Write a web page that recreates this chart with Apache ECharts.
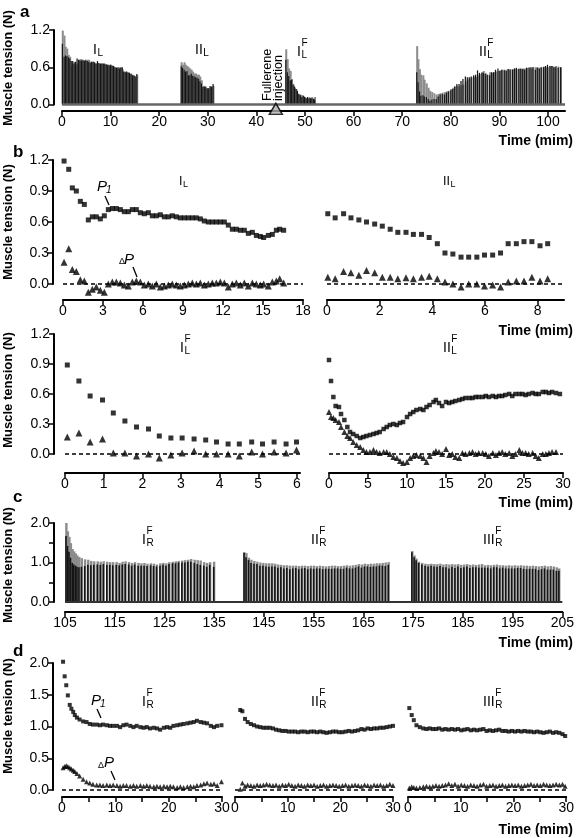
<!DOCTYPE html>
<html><head><meta charset="utf-8">
<script src="https://cdn.jsdelivr.net/npm/echarts@6/dist/echarts.min.js"></script>
<style>html,body{margin:0;padding:0;background:#fff}#c{width:577px;height:838px}</style>
</head><body><div id="c"></div>
<script>
// ---------- DATA: [time (min), P1 (N), deltaP (N)] ----------
const segIL = [[0.08,1.19,0.21],[0.43,1.11,0.34],[0.7,0.93,0.14],[1.0,0.90,0.12],[1.3,0.80,0.04],[1.6,0.77,0.03],[1.9,0.62,-0.08],[2.2,0.65,-0.05],[2.5,0.65,-0.03],[2.8,0.63,-0.06],[3.1,0.66,-0.08],[3.4,0.72,0.0],[3.7,0.73,0.02],[4.0,0.73,0.02],[4.3,0.72,0.01],[4.6,0.70,-0.01],[4.9,0.70,-0.02],[5.2,0.72,0.02],[5.5,0.72,0.03],[5.8,0.69,0.02],[6.1,0.68,-0.01],[6.4,0.69,0.0],[6.7,0.66,-0.02],[7.0,0.66,0.0],[7.3,0.67,-0.03],[7.6,0.65,-0.02],[7.9,0.65,-0.01],[8.2,0.66,0.0],[8.5,0.65,-0.01],[8.8,0.64,-0.02],[9.1,0.64,-0.01],[9.4,0.64,0.0],[9.7,0.64,0.01],[10.0,0.64,0.0],[10.3,0.63,0.01],[10.6,0.61,-0.01],[10.9,0.60,0.0],[11.2,0.60,0.01],[11.5,0.60,0.01],[11.8,0.60,0.02],[12.1,0.60,0.01],[12.4,0.57,-0.03],[12.7,0.53,0.0],[13.0,0.53,0.01],[13.3,0.52,-0.01],[13.6,0.52,0.01],[13.9,0.49,-0.02],[14.2,0.50,0.01],[14.5,0.47,0.0],[14.8,0.46,-0.01],[15.05,0.45,0.0],[15.4,0.47,-0.02],[15.7,0.48,0.02],[16.0,0.52,0.03],[16.25,0.53,0.05],[16.55,0.52,0.01]];
const segIIL = [[0.03,0.68,0.065],[0.31,0.64,0.05],[0.63,0.68,0.12],[0.91,0.64,0.11],[1.21,0.62,0.085],[1.5,0.60,0.13],[1.81,0.58,0.11],[2.1,0.56,0.065],[2.4,0.53,0.065],[2.69,0.50,0.05],[3.0,0.50,0.06],[3.28,0.48,0.05],[3.59,0.48,0.065],[3.88,0.45,0.075],[4.19,0.39,0.05],[4.48,0.30,0.02],[4.78,0.29,0.0],[5.09,0.26,-0.03],[5.38,0.26,0.0],[5.69,0.26,0.0],[5.98,0.28,-0.02],[6.29,0.28,-0.01],[6.59,0.30,-0.03],[6.88,0.39,0.02],[7.19,0.39,0.03],[7.48,0.41,0.03],[7.78,0.41,0.065],[8.09,0.37,0.03],[8.38,0.39,0.05]];
const segILF = [[0.06,0.89,0.17],[0.36,0.73,0.21],[0.65,0.58,0.12],[0.97,0.54,0.15],[1.25,0.41,0.01],[1.55,0.33,0.01],[1.85,0.27,-0.02],[2.16,0.25,0.0],[2.44,0.18,-0.04],[2.74,0.16,-0.01],[3.03,0.16,0.01],[3.34,0.15,0.03],[3.64,0.14,0.0],[3.92,0.12,0.0],[4.22,0.10,0.0],[4.51,0.10,-0.02],[4.83,0.12,0.02],[5.11,0.10,0.0],[5.41,0.12,0.02],[5.72,0.10,0.01],[5.99,0.12,0.04]];
const segIILF = [[0,0.94,0.42],[0.26,0.73,0.37],[0.56,0.57,0.36],[0.85,0.48,0.34],[1.28,0.47,0.32],[1.54,0.40,0.27],[1.97,0.34,0.22],[2.35,0.27,0.18],[2.7,0.22,0.16],[3.1,0.20,0.12],[3.55,0.18,0.09],[4.0,0.16,0.07],[4.4,0.17,0.04],[4.8,0.18,0.02],[5.25,0.19,0.02],[5.7,0.20,0.04],[6.1,0.21,0.02],[6.5,0.22,0.01],[7.0,0.25,0.02],[7.4,0.27,0.02],[7.8,0.29,0.0],[8.25,0.30,-0.03],[8.7,0.29,-0.04],[9.1,0.31,-0.07],[9.5,0.32,-0.09],[10.0,0.37,-0.08],[10.4,0.40,-0.04],[10.8,0.42,-0.02],[11.2,0.44,-0.01],[11.7,0.45,-0.02],[12.1,0.44,-0.04],[12.5,0.47,-0.08],[12.9,0.49,-0.02],[13.4,0.52,0.01],[13.7,0.54,0.03],[14.1,0.51,0.02],[14.5,0.48,0.0],[15.0,0.52,0.05],[15.4,0.51,-0.01],[15.8,0.52,0.0],[16.2,0.53,-0.03],[16.7,0.54,-0.04],[17.1,0.55,0.01],[17.5,0.56,0.0],[18.0,0.56,0.01],[18.4,0.56,0.02],[18.8,0.57,0.0],[19.2,0.57,0.01],[19.7,0.57,0.01],[20.1,0.58,0.0],[20.5,0.57,-0.02],[21.0,0.58,0.01],[21.4,0.57,-0.01],[21.8,0.58,0.01],[22.2,0.58,0.02],[22.6,0.59,0.0],[23.1,0.60,0.01],[23.5,0.58,-0.02],[23.9,0.60,0.0],[24.4,0.60,0.04],[24.8,0.60,0.01],[25.2,0.59,0.01],[25.6,0.60,0.0],[26.1,0.61,0.01],[26.5,0.60,-0.02],[26.9,0.60,-0.04],[27.4,0.62,0.0],[27.8,0.62,0.0],[28.2,0.61,0.01],[28.6,0.62,0.02],[29.1,0.61,0.02],[29.6,0.60,null]];
const segIRF = [[0.2,2.02,0.35],[0.5,1.79,0.37],[0.8,1.65,0.38],[1.1,1.49,0.37],[1.45,1.34,0.35],[1.76,1.28,0.33],[2.1,1.23,0.31],[2.4,1.18,0.29],[2.8,1.14,0.26],[3.3,1.11,0.22],[3.96,1.08,0.17],[4.6,1.07,0.13],[5.2,1.04,0.11],[5.8,1.03,0.09],[6.5,1.03,0.08],[7.1,1.02,0.08],[7.7,1.03,0.07],[8.4,1.02,0.08],[9.0,1.01,0.07],[9.6,1.01,0.08],[10.3,1.01,0.07],[10.9,0.99,0.06],[11.5,1.02,0.07],[12.1,1.03,0.07],[12.8,1.01,0.06],[13.4,0.99,0.07],[14.0,1.01,0.06],[14.7,0.99,0.07],[15.3,0.98,0.06],[15.9,0.99,0.07],[16.5,0.97,0.06],[17.2,0.98,0.05],[17.8,0.97,0.06],[18.4,0.95,0.05],[19.1,0.98,0.06],[19.7,0.99,0.05],[20.3,0.98,0.06],[20.9,1.01,0.05],[21.6,1.02,0.04],[22.2,1.03,0.05],[22.8,1.04,0.04],[23.5,1.05,0.05],[24.1,1.06,0.06],[24.7,1.07,0.05],[25.3,1.09,0.07],[26.0,1.07,0.08],[26.6,1.06,0.10],[27.2,1.05,0.11],[27.9,1.01,0.09],[28.5,0.99,0.10],[29.1,1.01,0.07],[29.9,1.02,0.13]];
const segIIRF = [[1.0,1.26,0.01],[1.4,1.24,0.11],[1.9,1.12,0.06],[2.4,1.07,0.08],[3.0,1.04,0.07],[3.6,1.02,0.06],[4.2,1.00,0.08],[4.8,0.99,0.07],[5.4,0.98,0.08],[6.0,0.98,0.09],[6.6,0.98,0.08],[7.2,0.97,0.07],[7.8,0.95,0.08],[8.4,0.94,0.06],[9.0,0.93,0.08],[9.6,0.93,0.07],[10.2,0.92,0.09],[10.8,0.92,0.07],[11.4,0.92,0.06],[12.0,0.91,0.08],[12.6,0.92,0.07],[13.2,0.92,0.06],[13.8,0.91,0.08],[14.4,0.92,0.07],[15.0,0.92,0.08],[15.6,0.91,0.06],[16.2,0.92,0.07],[16.8,0.91,0.08],[17.4,0.90,0.06],[18.0,0.91,0.07],[18.6,0.92,0.08],[19.2,0.92,0.07],[19.8,0.91,0.06],[20.4,0.91,0.07],[21.0,0.92,0.08],[21.6,0.93,0.06],[22.2,0.92,0.07],[22.8,0.93,0.08],[23.4,0.94,0.07],[24.0,0.96,0.06],[24.6,0.95,0.08],[25.2,0.97,0.07],[25.8,0.96,0.06],[26.4,0.97,0.08],[27.0,0.97,0.07],[27.6,0.98,0.08],[28.2,0.98,0.06],[28.8,0.99,0.07],[29.4,1.00,0.09],[30.0,1.01,0.07]];
const segIIIRF = [[0.25,1.29,0.03],[0.7,1.18,0.05],[1.1,1.10,0.04],[1.6,1.02,0.03],[2.25,0.99,0.04],[2.9,0.97,0.05],[3.5,0.96,0.06],[4.1,0.97,0.05],[4.7,0.96,0.06],[5.3,0.96,0.07],[5.9,0.97,0.06],[6.5,0.95,0.07],[7.1,0.96,0.08],[7.7,0.95,0.10],[8.3,0.96,0.07],[8.9,0.95,0.09],[9.5,0.96,0.06],[10.1,0.94,0.08],[10.7,0.95,0.07],[11.3,0.96,0.06],[11.9,0.94,0.08],[12.5,0.95,0.07],[13.1,0.94,0.06],[13.7,0.95,0.08],[14.3,0.96,0.09],[14.9,0.93,0.06],[15.5,0.94,0.07],[16.1,0.93,0.08],[16.7,0.94,0.06],[17.3,0.95,0.07],[17.9,0.93,0.08],[18.5,0.93,0.06],[19.1,0.92,0.07],[19.7,0.93,0.08],[20.3,0.92,0.07],[20.9,0.93,0.08],[21.5,0.92,0.06],[22.1,0.93,0.07],[22.7,0.92,0.08],[23.3,0.92,0.09],[23.9,0.91,0.07],[24.5,0.92,0.08],[25.1,0.91,0.07],[25.7,0.90,0.09],[26.3,0.91,0.08],[26.9,0.92,0.07],[27.5,0.90,0.08],[28.1,0.91,0.09],[28.7,0.90,0.08],[29.3,0.88,0.09],[29.8,0.85,0.06]];
// start times of each recording block on the continuous time axes (panels a and c)
const startsA = [0, 24.5, 46, 73];
const cutA = [15.5, 6.6, 99, 99];      // part of each block shown as a trace in panel a
const startsC = [105, 140, 174.5];
const injectionTime = 44;
// tick labels
const ticksA = [0,10,20,30,40,50,60,70,80,90,100];
const ticksIL = [0,3,6,9,12,15,18];
const ticksIIL = [0,2,4,6,8];
const ticksILF = [0,1,2,3,4,5,6];
const ticksIILF = [0,5,10,15,20,25,30];
const ticksC = [105,115,125,135,145,155,165,175,185,195,205];
const ticksD = [0,10,20,30];
const minorD = [0,5,10,15,20,25,30];
const yTicksA = [0,0.6,1.2];
const yTicksB = [0,0.3,0.6,0.9,1.2];
const yLabelsC = [0,1,2];
const yTicksC = [0,0.5,1,1.5,2];
const yTicksD = [0,0.5,1,1.5,2];

// ---------- BUILD ----------
const FONT = '"Liberation Sans", Arial, Helvetica, sans-serif';
const grids = [], xAxis = [], yAxis = [], series = [], graphic = [];
const fmt1 = v => Number(v).toFixed(1);

function panel(o) {
  const i = grids.length;
  grids.push({left: o.left, top: o.top, width: o.width, height: o.height});
  xAxis.push({type: 'value', gridIndex: i, min: o.xmin, max: o.xmax, offset: o.xoff,
    axisLine: {show: true, onZero: false, lineStyle: {color: '#000', width: 2}},
    axisTick: {show: true, inside: false, length: 5, lineStyle: {color: '#000', width: 1.5}, customValues: o.xticks},
    axisLabel: {show: true, customValues: o.xlabels, color: '#000', fontSize: 14, fontFamily: FONT, margin: 4},
    splitLine: {show: false}});
  yAxis.push({type: 'value', gridIndex: i, min: o.ymin, max: o.ymax, offset: o.yoff || 0, show: !!o.ylabels,
    axisLine: {show: true, onZero: false, lineStyle: {color: '#000', width: 2}},
    axisTick: {show: true, length: 5, lineStyle: {color: '#000', width: 1.5}, customValues: o.yticks},
    axisLabel: {show: true, customValues: o.ylabels, color: '#000', fontSize: 14, fontFamily: FONT, margin: 4, formatter: fmt1},
    splitLine: {show: false}});
  return i;
}
function scatter(gi, data, sym, size, extra) {
  series.push(Object.assign({type: 'scatter', xAxisIndex: gi, yAxisIndex: gi, data: data, symbol: sym, symbolSize: size,
    itemStyle: {color: '#000'}, clip: false, silent: true, animation: false}, extra || {}));
}
function dashZero() {
  return {silent: true, symbol: 'none', animation: false, label: {show: false},
    lineStyle: {color: '#000', type: [4, 3], width: 1.5}, data: [{yAxis: 0}]};
}
function bars(gi, data, color, w, extra) {
  series.push(Object.assign({type: 'bar', xAxisIndex: gi, yAxisIndex: gi, data: data, barWidth: w, barGap: '-100%',
    itemStyle: {color: color}, silent: true, animation: false}, extra || {}));
}
function p1Of(seg) { return seg.map(d => [d[0], d[1]]); }
function dpOf(seg) { return seg.filter(d => d[2] !== null).map(d => [d[0], d[2]]); }
function scatterPanel(gi, seg, sq, tri) {
  scatter(gi, p1Of(seg), 'rect', sq);
  scatter(gi, dpOf(seg), 'triangle', tri, {markLine: dashZero()});
}

// panel a
const gA = panel({left: 62, top: 30, width: 503, height: 74.5, xmin: 0, xmax: 103.5, xoff: 6.5,
  xticks: ticksA, xlabels: ticksA, ymin: 0, ymax: 1.2, yoff: 8, yticks: yTicksA, ylabels: yTicksA});
const segsA = [segIL, segIIL, segILF, segIILF];
const aGray = [], aBlack = [];
segsA.forEach((s, k) => s.forEach(d => {
  if (d[0] <= cutA[k]) {
    aGray.push([startsA[k] + d[0], d[1]]);
    aBlack.push([startsA[k] + d[0], d[1] - (d[2] || 0)]);
  }
}));
bars(gA, aGray, '#8c8c8c', 2, {markLine: {silent: true, symbol: 'none', animation: false, label: {show: false},
  lineStyle: {color: '#666', type: 'solid', width: 2.5}, data: [{yAxis: 0}]}});
bars(gA, aBlack, '#151515', 1.2);
scatter(gA, [[injectionTime, -0.07]], 'triangle', [13, 11], {itemStyle: {color: '#b0b0b0', borderColor: '#000', borderWidth: 1.5}, z: 10});

// panel b (top)
const gIL = panel({left: 63, top: 160, width: 240, height: 124, xmin: 0, xmax: 18, xoff: 16,
  xticks: ticksIL, xlabels: ticksIL, ymin: 0, ymax: 1.2, yoff: 10, yticks: yTicksB, ylabels: yTicksB});
scatterPanel(gIL, segIL, 5, 7);
const gIIL = panel({left: 327, top: 160, width: 237, height: 124, xmin: 0, xmax: 9, xoff: 16,
  xticks: ticksIIL, xlabels: ticksIIL, ymin: 0, ymax: 1.2});
scatterPanel(gIIL, segIIL, 5, 7);
// panel b (bottom)
const gILF = panel({left: 65, top: 334, width: 235, height: 120, xmin: 0, xmax: 6.08, xoff: 19,
  xticks: ticksILF, xlabels: ticksILF, ymin: 0, ymax: 1.2, yoff: 11, yticks: yTicksB, ylabels: yTicksB});
scatterPanel(gILF, segILF, 5, 7);
const gIILF = panel({left: 329, top: 334, width: 234, height: 120, xmin: 0, xmax: 30, xoff: 19,
  xticks: ticksIILF, xlabels: ticksIILF, ymin: 0, ymax: 1.2});
scatterPanel(gIILF, segIILF, 4.5, 6);

// panel c
const gC = panel({left: 65, top: 523, width: 502, height: 79, xmin: 105, xmax: 205, xoff: 10,
  xticks: ticksC, xlabels: ticksC, ymin: 0, ymax: 2, yoff: 11, yticks: yTicksC, ylabels: yLabelsC});
const segsC = [segIRF, segIIRF, segIIIRF];
const cGray = [], cBlack = [];
segsC.forEach((s, k) => s.forEach(d => {
  cGray.push([startsC[k] + d[0], d[1]]);
  cBlack.push([startsC[k] + d[0], d[1] - d[2]]);
}));
bars(gC, cGray, '#8c8c8c', 2.4, {markLine: {silent: true, symbol: 'none', animation: false, label: {show: false},
  lineStyle: {color: '#333', type: 'solid', width: 2}, data: [{yAxis: 0}]}});
bars(gC, cBlack, '#151515', 1.6);

// panel d
const gD1 = panel({left: 62, top: 663, width: 160, height: 127, xmin: 0, xmax: 30, xoff: 7,
  xticks: minorD, xlabels: ticksD, ymin: 0, ymax: 2, yoff: 9, yticks: yTicksD, ylabels: yTicksD});
scatterPanel(gD1, segIRF, 4, 5);
const gD2 = panel({left: 235, top: 663, width: 158, height: 127, xmin: 0, xmax: 30, xoff: 7,
  xticks: minorD, xlabels: ticksD, ymin: 0, ymax: 2});
scatterPanel(gD2, segIIRF, 4, 5);
const gD3 = panel({left: 408, top: 663, width: 160, height: 127, xmin: 0, xmax: 30, xoff: 7,
  xticks: minorD, xlabels: ticksD, ymin: 0, ymax: 2});
scatterPanel(gD3, segIIIRF, 4, 5);

// ---------- TEXT ----------
const mctx = document.createElement('canvas').getContext('2d');
function tw(t, font) { mctx.font = font; return mctx.measureText(t).width; }
function txt(x, y, t, font, align, valign, rot) {
  const e = {type: 'text', x: x, y: y, silent: true, z: 20,
    style: {text: t, font: font, fill: '#000', align: align || 'left', verticalAlign: valign || 'middle',
      textAlign: align || 'left', textVerticalAlign: valign || 'middle'}};
  if (rot) e.rotation = rot;
  graphic.push(e);
}
function line(x1, y1, x2, y2) {
  graphic.push({type: 'line', silent: true, z: 20, shape: {x1: x1, y1: y1, x2: x2, y2: y2}, style: {stroke: '#000', lineWidth: 1.3}});
}
function roman(x, yc, main, sub, sup, size) {
  const s = size || 14;
  const f = s + 'px ' + FONT;
  const w = tw(main, f);
  const sf = Math.round(s * 0.68) + 'px ' + FONT;
  txt(x, yc, main, f);
  txt(x + w + 0.5, yc + s * 0.2, sub, sf);
  if (sup) txt(x + w + 0.5, yc - s * 0.6, sup, sf);
}
// panel letters
txt(20, 12, 'a', 'bold 17px ' + FONT);
txt(13, 152, 'b', 'bold 17px ' + FONT);
txt(13, 497, 'c', 'bold 17px ' + FONT);
txt(13, 651, 'd', 'bold 17px ' + FONT);
// y titles
const yt = 'bold 13px ' + FONT;
[68, 222, 390, 565, 716].forEach(y => txt(8, y, 'Muscle tension (N)', yt, 'center', 'middle', Math.PI / 2));
// x titles
const xt = 'bold 14px ' + FONT;
[141, 331, 503, 643, 830].forEach(y => txt(573, y, 'Time (mim)', xt, 'right', 'middle'));
// block labels
roman(93, 50, 'I', 'L');
roman(195, 50, 'II', 'L');
roman(297, 52, 'I', 'L', 'F');
roman(479, 52, 'II', 'L', 'F');
roman(179, 182, 'I', 'L', null, 12.5);
roman(443, 182, 'II', 'L', null, 12.5);
roman(180, 348, 'I', 'L', 'F');
roman(443, 348, 'II', 'L', 'F');
roman(142, 540, 'I', 'R', 'F');
roman(311, 540, 'II', 'R', 'F');
roman(483, 540, 'III', 'R', 'F');
roman(142, 702, 'I', 'R', 'F');
roman(311, 702, 'II', 'R', 'F');
roman(483, 702, 'III', 'R', 'F');
// fullerene injection
graphic.push({type: 'text', x: 273, y: 101, rotation: Math.PI / 2, silent: true, z: 20,
  style: {text: 'Fullerene\ninjection', font: '12.5px ' + FONT, fill: '#000', lineHeight: 11,
    align: 'left', verticalAlign: 'middle', textAlign: 'left', textVerticalAlign: 'middle'}});
// P1 and deltaP annotations
txt(97, 187, 'P', 'italic 15px ' + FONT);
txt(106, 190, '1', 'italic 10px ' + FONT);
line(105, 196, 109, 205);
txt(119, 262, '\u0394', '9px ' + FONT);
txt(124, 260, 'P', 'italic 15px ' + FONT);
line(133, 267, 137, 277);
txt(91, 701, 'P', 'italic 15px ' + FONT);
txt(100, 704, '1', 'italic 10px ' + FONT);
line(97, 709, 101, 718);
txt(98, 766, '\u0394', '9px ' + FONT);
txt(104, 763, 'P', 'italic 15px ' + FONT);
line(111, 771, 115, 780);

const chart = echarts.init(document.getElementById('c'), null, {renderer: 'canvas'});
chart.setOption({animation: false, backgroundColor: '#fff', grid: grids, xAxis: xAxis, yAxis: yAxis, series: series, graphic: graphic});
</script></body></html>
